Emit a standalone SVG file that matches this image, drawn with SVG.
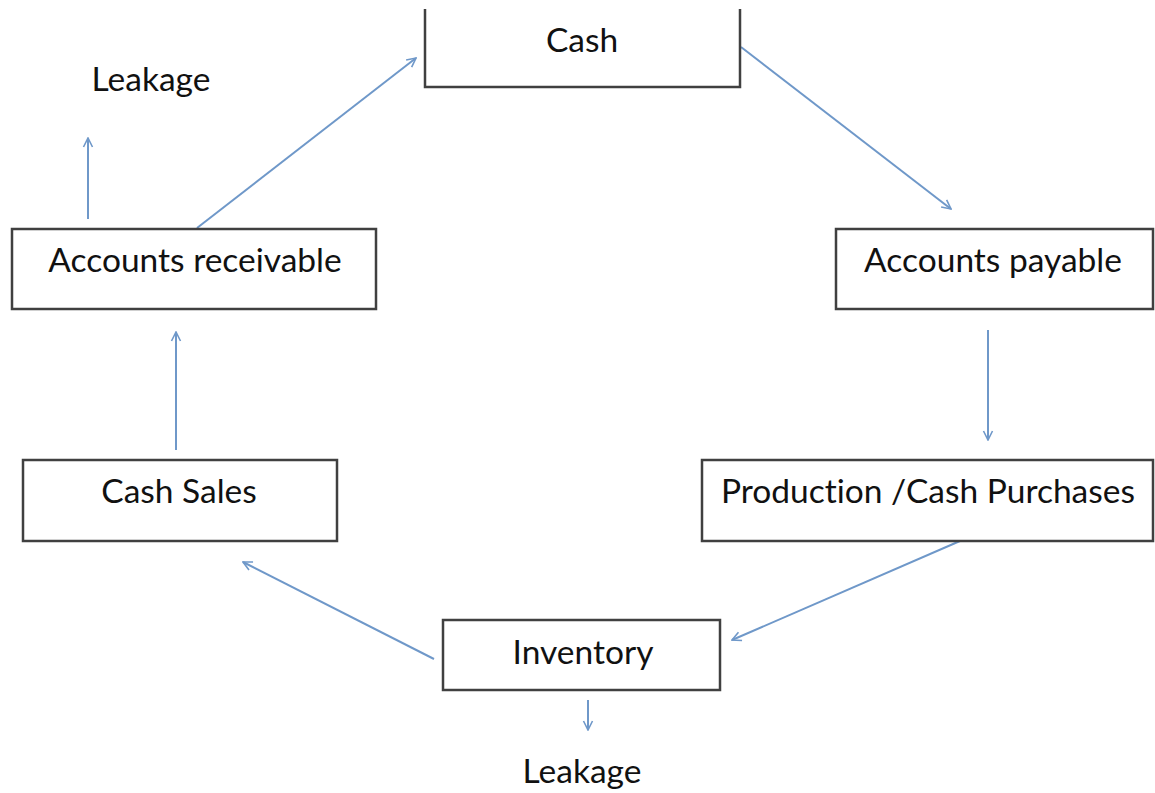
<svg xmlns="http://www.w3.org/2000/svg" width="1155" height="793" viewBox="0 0 1155 793">
  <style>
    .box { fill: #ffffff; stroke: #404040; stroke-width: 2.5; }
    .lbl { font-family: Lato, "Open Sans", "Liberation Sans", sans-serif; font-size: 33.5px; fill: #111111; text-anchor: middle; font-variant-ligatures: none; }
    .flow { stroke: #6f98c9; stroke-width: 2; fill: none; marker-end: url(#arrow); }
  </style>
  <defs>
    <marker id="arrow" viewBox="0 0 12 12" refX="11" refY="6" markerWidth="12" markerHeight="12" markerUnits="userSpaceOnUse" orient="auto">
      <polyline points="2,1.5 11,6 2,10.5" fill="none" stroke="#6f98c9" stroke-width="1.6"/>
    </marker>
  </defs>
  <rect width="1155" height="793" fill="#ffffff"/>

  <g id="connectors">
    <line class="flow" x1="197" y1="228" x2="416" y2="58"/>
    <line class="flow" x1="741" y1="47" x2="951" y2="209"/>
    <line class="flow" x1="88" y1="219" x2="88" y2="138"/>
    <line class="flow" x1="988" y1="330" x2="988" y2="440"/>
    <line class="flow" x1="960" y1="541" x2="732" y2="640"/>
    <line class="flow" x1="434" y1="659" x2="243" y2="562"/>
    <line class="flow" x1="176" y1="450" x2="176" y2="332"/>
    <line class="flow" x1="588" y1="700" x2="588" y2="730"/>
  </g>

  <g id="cash">
    <!-- top edge runs off the page, so only sides and bottom are drawn -->
    <path class="box" d="M425,9 V87 H740 V9"/>
    <text class="lbl" x="582" y="52">Cash</text>
  </g>
  <g id="leakage-top">
    <text class="lbl" x="151" y="91">Leakage</text>
  </g>
  <g id="accounts-receivable">
    <rect class="box" x="12" y="229" width="364" height="80"/>
    <text class="lbl" x="195" y="272">Accounts receivable</text>
  </g>
  <g id="accounts-payable">
    <rect class="box" x="836" y="229" width="317" height="80"/>
    <text class="lbl" x="993" y="272">Accounts payable</text>
  </g>
  <g id="cash-sales">
    <rect class="box" x="23" y="460" width="314" height="81"/>
    <text class="lbl" x="179" y="503">Cash Sales</text>
  </g>
  <g id="production-purchases">
    <rect class="box" x="702" y="460" width="451" height="81"/>
    <text class="lbl" x="928" y="503">Production /Cash Purchases</text>
  </g>
  <g id="inventory">
    <rect class="box" x="443" y="620" width="277" height="70"/>
    <text class="lbl" x="583" y="664">Inventory</text>
  </g>
  <g id="leakage-bottom">
    <text class="lbl" x="582" y="783">Leakage</text>
  </g>
</svg>
